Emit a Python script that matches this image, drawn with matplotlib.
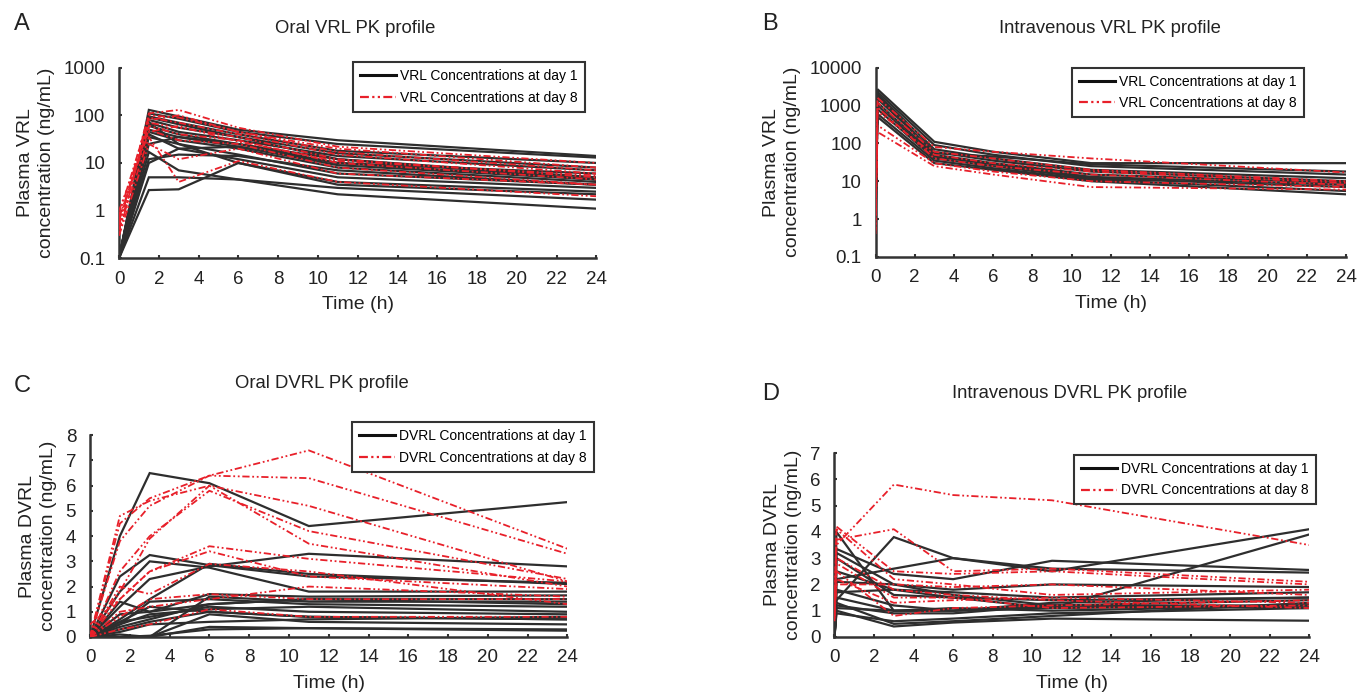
import matplotlib
matplotlib.use("Agg")
import matplotlib.pyplot as plt
from matplotlib.lines import Line2D

plt.rcParams['font.family'] = ['Liberation Sans', 'DejaVu Sans']

# ---------------- data ----------------
oral_times = [0, 1.5, 3, 6, 11, 24]
iv_times = [0, 0.1, 3, 6, 11, 24]

a_day1 = [
    [0.1, 130, 95, 50, 30, 14],
    [0.1, 110, 85, 45, 25, 13],
    [0.1, 95, 70, 40, 18, 10],
    [0.1, 80, 55, 35, 16, 8],
    [0.1, 70, 45, 30, 14, 7],
    [0.1, 60, 40, 25, 12, 5],
    [0.1, 50, 35, 22, 10, 4.5],
    [0.1, 45, 30, 20, 8, 4],
    [0.1, 35, 25, 15, 6, 3.5],
    [0.1, 40, 20, 12, 5, 3],
    [0.1, 17, 7, 4.5, 2.2, 1.1],
    [0.1, 5, 5, 4.5, 3, 1.7],
    [0.1, 2.7, 2.8, 10, 4, 2.5],
    [0.1, 10, 20, 22, 9, 4.5],
    [0.1, 12, 15, 14, 7, 3.5],
    [0.1, 70, 25, 10, 3.5, 2.2],
    [0.1, 25, 35, 25, 10, 6],
    [0.1, 90, 65, 35, 12, 4.5],
]
a_day8 = [
    [0.5, 110, 130, 55, 22, 10],
    [0.3, 100, 90, 45, 20, 8],
    [0.8, 90, 70, 40, 15, 6],
    [0.4, 70, 55, 35, 12, 5],
    [0.6, 60, 40, 30, 10, 4.5],
    [1.0, 50, 30, 25, 8, 3.5],
    [0.4, 35, 4, 11, 4, 2],
    [0.3, 25, 12, 20, 6, 3.5],
    [0.7, 45, 60, 28, 11, 5.5],
    [0.5, 80, 100, 45, 17, 7],
]

b_day1 = [
    [0.3, 2700, 110, 60, 30, 30],
    [1, 2300, 90, 50, 25, 15],
    [2, 2000, 70, 40, 20, 12],
    [5, 1500, 60, 35, 18, 10],
    [0.5, 1200, 50, 30, 15, 9],
    [3, 1000, 45, 28, 13, 8],
    [1.5, 800, 40, 25, 12, 7],
    [0.8, 600, 35, 22, 11, 5.5],
    [2.5, 500, 30, 20, 10, 4.5],
    [4, 1800, 55, 45, 28, 18],
]
b_day8 = [
    [0.5, 1600, 80, 60, 40, 17],
    [1, 1200, 60, 40, 20, 10],
    [0.4, 900, 40, 25, 15, 8],
    [2, 300, 30, 18, 10, 7],
    [0.7, 200, 25, 15, 7, 6],
    [1.5, 700, 50, 30, 18, 9],
]

c_day1 = [
    [0, 4.0, 6.5, 6.1, 4.4, 5.35],
    [0, 2.4, 3.25, 2.85, 2.4, 2.15],
    [0, 1.8, 3.0, 2.75, 1.8, 1.8],
    [0, 1.2, 2.3, 2.8, 3.3, 2.8],
    [0, 0.7, 1.5, 2.9, 2.5, 2.1],
    [0, 1.4, 1.0, 1.3, 1.5, 1.5],
    [0, 0.9, 1.0, 1.7, 1.6, 1.65],
    [0, 0.5, 1.4, 1.5, 1.3, 1.2],
    [0, 0.6, 0.8, 1.2, 1.0, 0.9],
    [0, 0.3, 0.6, 1.0, 0.8, 0.7],
    [0, 0.0, 0.0, 1.6, 1.4, 1.4],
    [0, 0.0, 0.0, 0.4, 0.35, 0.3],
    [0, 0.1, 0.0, 0.9, 0.6, 0.5],
    [0, 0.2, 0.5, 0.6, 0.7, 0.8],
    [0, 0.5, 0.9, 1.1, 1.2, 1.0],
    [0, 0.4, 0.7, 1.3, 1.5, 1.3],
    [0, 0.0, 0.05, 0.3, 0.35, 0.25],
    [0, 0.6, 1.2, 1.0, 0.8, 0.7],
]
c_day8 = [
    [0, 4.5, 5.5, 6.4, 7.4, 3.5],
    [0, 3.8, 5.2, 6.4, 6.3, 3.3],
    [0, 4.8, 5.4, 6.0, 5.2, 2.2],
    [0, 2.6, 4.0, 5.8, 4.2, 2.3],
    [0, 1.8, 3.9, 6.0, 3.7, 2.0],
    [0, 1.5, 2.6, 3.6, 3.1, 2.2],
    [0, 2.0, 1.7, 2.9, 2.6, 1.3],
    [0, 0.8, 1.5, 1.7, 1.5, 1.5],
    [0, 0.3, 0.5, 1.1, 0.8, 0.8],
    [0.5, 1.5, 2.6, 3.4, 2.4, 1.9],
    [0, 1.0, 1.2, 1.5, 2.0, 1.6],
]

d_day1 = [
    [0, 4.0, 1.0, 1.0, 1.2, 1.2],
    [0, 3.35, 2.4, 2.2, 2.9, 2.55],
    [0, 1.4, 3.8, 3.0, 2.5, 4.1],
    [0, 3.0, 1.6, 1.5, 1.1, 3.9],
    [0, 2.2, 2.6, 3.0, 2.6, 2.45],
    [0, 1.0, 0.4, 0.55, 0.7, 0.62],
    [0, 1.7, 1.8, 1.7, 1.5, 1.7],
    [0, 0.9, 0.6, 0.7, 0.9, 1.1],
    [0, 1.3, 0.5, 0.6, 0.8, 1.3],
    [0, 2.1, 2.0, 1.8, 2.0, 1.9],
    [0, 1.1, 1.0, 1.0, 1.3, 1.5],
    [0, 1.8, 1.2, 1.0, 1.1, 1.2],
    [0, 3.2, 2.0, 1.6, 1.2, 1.4],
    [0, 1.5, 1.0, 1.1, 1.0, 1.2],
    [0, 1.2, 0.9, 0.9, 1.2, 1.1],
    [0, 2.5, 1.8, 1.5, 1.4, 1.5],
]
d_day8 = [
    [1.0, 3.5, 5.8, 5.4, 5.2, 3.5],
    [0.6, 4.2, 2.5, 2.4, 2.5, 2.0],
    [0.8, 3.7, 4.1, 2.5, 2.6, 2.1],
    [1.0, 4.1, 2.2, 2.0, 1.6, 1.8],
    [0.9, 2.8, 1.5, 1.5, 1.1, 1.2],
    [1.0, 2.5, 0.8, 1.1, 1.2, 1.4],
    [0.7, 2.0, 2.0, 1.9, 2.0, 1.6],
    [0.9, 3.0, 1.8, 1.6, 1.4, 1.1],
    [0.8, 2.2, 1.3, 1.4, 1.5, 1.3],
]

x_ticks = list(range(0, 25, 2))

# ---------------- styles ----------------
BLACK = '#2e2e2e'
RED = '#e8202a'
RED_LS = (0, (4, 1.5, 1, 1.5, 1, 1.5))
AXIS = '#333333'

fig = plt.figure(figsize=(13.68, 6.98), dpi=100)

panels = [
    dict(rect=[0.087, 0.630, 0.349, 0.273], t1=oral_times, d1=a_day1, d8=a_day8,
         log=True, ylim=(0.1, 1000), yticks=[0.1, 1, 10, 100, 1000],
         yticklabels=['0.1', '1', '10', '100', '1000'],
         ylabel='Plasma VRL\nconcentration (ng/mL)', title='Oral VRL PK profile',
         title_xy=(0.2595, 0.959), letter='A', letter_xy=(0.016, 0.966),
         leg=['VRL Concentrations at day 1', 'VRL Concentrations at day 8'],
         leg_anchor=(0.49, 1.03)),
    dict(rect=[0.640, 0.632, 0.344, 0.271], t1=iv_times, d1=b_day1, d8=b_day8,
         log=True, ylim=(0.1, 10000), yticks=[0.1, 1, 10, 100, 1000, 10000],
         yticklabels=['0.1', '1', '10', '100', '1000', '10000'],
         ylabel='Plasma VRL\nconcentration (ng/mL)', title='Intravenous VRL PK profile',
         title_xy=(0.811, 0.959), letter='B', letter_xy=(0.563, 0.966),
         leg=['VRL Concentrations at day 1', 'VRL Concentrations at day 8'],
         leg_anchor=(0.418, 1.0)),
    dict(rect=[0.0658, 0.0874, 0.349, 0.289], t1=oral_times, d1=c_day1, d8=c_day8,
         log=False, ylim=(0, 8), yticks=list(range(0, 9)),
         yticklabels=[str(v) for v in range(0, 9)],
         ylabel='Plasma DVRL\nconcentration (ng/mL)', title='Oral DVRL PK profile',
         title_xy=(0.235, 0.451), letter='C', letter_xy=(0.016, 0.447),
         leg=['DVRL Concentrations at day 1', 'DVRL Concentrations at day 8'],
         leg_anchor=(0.549, 1.065)),
    dict(rect=[0.610, 0.0874, 0.347, 0.2636], t1=iv_times, d1=d_day1, d8=d_day8,
         log=False, ylim=(0, 7), yticks=list(range(0, 8)),
         yticklabels=[str(v) for v in range(0, 8)],
         ylabel='Plasma DVRL\nconcentration (ng/mL)', title='Intravenous DVRL PK profile',
         title_xy=(0.782, 0.436), letter='D', letter_xy=(0.563, 0.436),
         leg=['DVRL Concentrations at day 1', 'DVRL Concentrations at day 8'],
         leg_anchor=(0.505, 0.99)),
]

for p in panels:
    ax = fig.add_axes(p['rect'])
    for row in p['d1']:
        ax.plot(p['t1'], row, color=BLACK, lw=1.6, solid_joinstyle='miter', zorder=2)
    for row in p['d8']:
        ax.plot(p['t1'], row, color=RED, lw=1.3, ls=RED_LS, zorder=3)
    if p['log']:
        ax.set_yscale('log')
    ax.set_xlim(0, 24)
    ax.set_ylim(*p['ylim'])
    ax.set_xticks(x_ticks)
    ax.set_xticklabels([str(v) for v in x_ticks])
    ax.set_yticks(p['yticks'])
    ax.set_yticklabels(p['yticklabels'])
    ax.minorticks_off()
    for s in ['top', 'right']:
        ax.spines[s].set_visible(False)
    for s in ['left', 'bottom']:
        ax.spines[s].set_linewidth(1.8)
        ax.spines[s].set_color(AXIS)
    ax.tick_params(axis='both', labelsize=13.5, direction='in', length=2.5,
                   width=1.5, color=AXIS, labelcolor='#222222')
    ax.tick_params(axis='x', pad=9)
    ax.tick_params(axis='y', pad=10)
    ax.set_xlabel('Time (h)', fontsize=14, labelpad=6, color='#222222')
    ax.set_ylabel(p['ylabel'], fontsize=14, linespacing=1.3, labelpad=6, color='#222222')
    fig.text(p['title_xy'][0], p['title_xy'][1], p['title'], fontsize=13.3,
             ha='center', va='center', color='#222222')
    fig.text(p['letter_xy'][0], p['letter_xy'][1], p['letter'], fontsize=17,
             ha='center', va='center', color='#222222')
    handles = [Line2D([], [], color='#111111', lw=2.2),
               Line2D([], [], color=RED, lw=1.6, ls=RED_LS)]
    leg = ax.legend(handles, p['leg'], loc='upper left', bbox_to_anchor=p['leg_anchor'],
                    fontsize=10, frameon=True, fancybox=False, handlelength=2.6,
                    handletextpad=0.3, borderpad=0.5, labelspacing=0.55,
                    borderaxespad=0)
    fr = leg.get_frame()
    fr.set_edgecolor('#333333')
    fr.set_linewidth(1.5)
    fr.set_alpha(1)

fig.savefig('out.png', dpi=100)
